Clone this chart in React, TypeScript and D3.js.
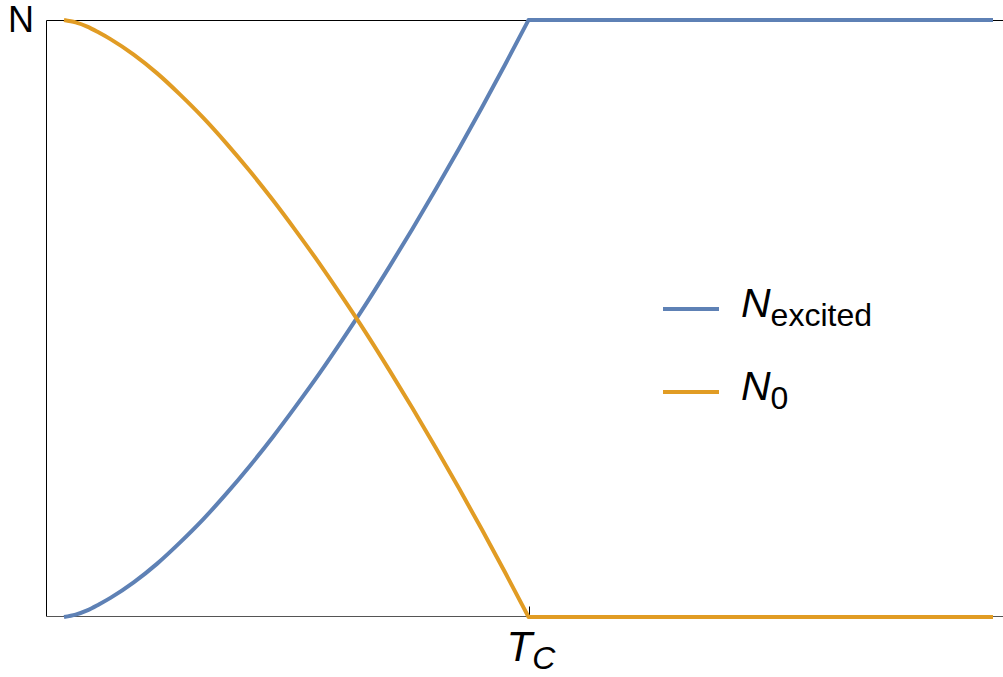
import React from "react";
import * as d3 from "d3";

// Temperature in units of the critical temperature T_C
const temps = [0, 0.025, 0.05, 0.075, 0.1, 0.15, 0.2, 0.25, 0.3, 0.35, 0.4, 0.45, 0.5, 0.55, 0.6, 0.65, 0.7, 0.75, 0.8, 0.85, 0.9, 0.95, 1.0, 2.0];
// Fraction of particles in excited states
const nExcited = [0, 0.004, 0.011, 0.021, 0.032, 0.058, 0.089, 0.125, 0.164, 0.207, 0.253, 0.302, 0.354, 0.408, 0.465, 0.524, 0.586, 0.65, 0.716, 0.784, 0.854, 0.926, 1.0, 1.0];
// Fraction of particles in the ground state
const nGround = [1, 0.996, 0.989, 0.979, 0.968, 0.942, 0.911, 0.875, 0.836, 0.793, 0.747, 0.698, 0.646, 0.592, 0.535, 0.476, 0.414, 0.35, 0.284, 0.216, 0.146, 0.074, 0.0, 0.0];

const xTicks = [{ value: 1, main: "T", sub: "C" }];
const legendItems = [
  { main: "N", sub: "excited", color: "#5E81B5" },
  { main: "N", sub: "0", color: "#E19C24" },
];

const W = 1003;
const H = 677;

export default function App() {
  const x = d3.scaleLinear().domain([0, 2]).range([64, 993]);
  const y = d3.scaleLinear().domain([0, 1]).range([617, 20]);
  const frameLeft = Math.round(x(-0.0388)) + 0.5;
  const frameRight = x(2.04);
  const frameTop = Math.round(y(1)) + 0.5;
  const frameBottom = Math.round(y(0)) - 0.5;

  // Smooth part below T_C, straight plateau above
  const smooth = d3
    .line<[number, number]>()
    .x((d) => x(d[0]))
    .y((d) => y(d[1]))
    .curve(d3.curveMonotoneX);

  const pathFor = (vals: number[]) => {
    const pts: [number, number][] = temps.map((t, i) => [t, vals[i]]);
    const below = pts.filter((p) => p[0] <= 1);
    const above = pts.filter((p) => p[0] >= 1);
    let d = smooth(below) || "";
    above.slice(1).forEach((p) => {
      d += `L${x(p[0])},${y(p[1])}`;
    });
    return d;
  };

  const series = [
    { vals: nExcited, color: legendItems[0].color },
    { vals: nGround, color: legendItems[1].color },
  ];

  const fontFamily = "'Liberation Sans', Arial, sans-serif";

  return (
    <svg
      width={W}
      height={H}
      style={{ position: "absolute", left: 0, top: 0, background: "#fff" }}
      fontFamily={fontFamily}
    >
      {/* frame */}
      <line x1={frameLeft} x2={frameRight} y1={frameTop} y2={frameTop} stroke="#000" strokeWidth={1} />
      <line x1={frameLeft} x2={frameLeft} y1={frameTop} y2={frameBottom} stroke="#000" strokeWidth={1} />
      <line x1={frameRight} x2={frameRight} y1={frameTop} y2={frameBottom} stroke="#000" strokeWidth={1} />
      <line x1={frameLeft} x2={frameRight} y1={frameBottom} y2={frameBottom} stroke="#555" strokeWidth={1.2} />

      {/* x tick */}
      {xTicks.map((t) => (
        <g key={t.main}>
          <line x1={Math.round(x(t.value)) + 0.5} x2={Math.round(x(t.value)) + 0.5} y1={frameBottom} y2={frameBottom - 10} stroke="#000" strokeWidth={1} />
          <text x={x(t.value) - 22} y={661} fontSize={42} fontStyle="italic">
            {t.main}
            <tspan fontSize={32} dy={8}>{t.sub}</tspan>
          </text>
        </g>
      ))}

      {/* y label */}
      <text x={8} y={32} fontSize={36}>N</text>

      {/* curves */}
      {series.map((s, i) => (
        <path
          key={i}
          d={pathFor(s.vals)}
          fill="none"
          stroke={s.color}
          strokeWidth={4}
          strokeLinejoin="round"
        />
      ))}

      {/* legend */}
      {legendItems.map((it, i) => {
        const ly = 309 + i * 83;
        return (
          <g key={i}>
            <line x1={663} x2={719} y1={ly} y2={ly} stroke={it.color} strokeWidth={4} />
            <text x={741} y={ly + 8} fontSize={41} fontStyle="italic">
              {it.main}
              <tspan fontStyle="normal" fontSize={32} dy={9}>{it.sub}</tspan>
            </text>
          </g>
        );
      })}
    </svg>
  );
}
